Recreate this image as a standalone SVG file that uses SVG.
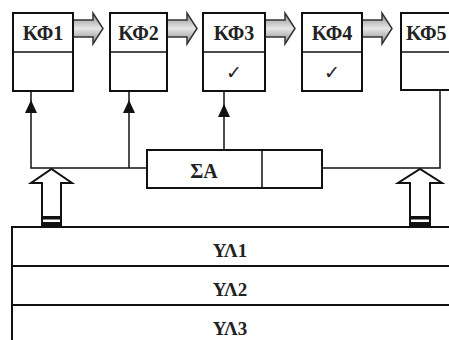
<svg xmlns="http://www.w3.org/2000/svg" width="449" height="340" viewBox="0 0 449 340">
<style>
.box{fill:#fff;stroke:#111;stroke-width:2}
.ln{fill:none;stroke:#111;stroke-width:1.5}
.t{font-family:"Liberation Serif","Times New Roman",serif;font-weight:bold;fill:#222;text-anchor:middle}
.ck{font-family:"DejaVu Sans",sans-serif;font-size:19px;font-weight:bold;fill:#222;text-anchor:middle}
.ga{fill:url(#g);stroke:#333;stroke-width:1.5}
.ha{fill:#fff;stroke:#111;stroke-width:2}
</style>
<defs>
<linearGradient id="g" x1="0" y1="0" x2="0" y2="1">
<stop offset="0" stop-color="#8a8a8a"/>
<stop offset="0.5" stop-color="#e6e6e6"/>
<stop offset="1" stop-color="#8a8a8a"/>
</linearGradient>
<path id="ga" d="M0,20 H20 V13 L30,28.5 L20,44 V37 H0 Z"/>
<path id="ah" d="M-6,113 L0,100 L6,113 Z" fill="#111"/>
</defs>
<g id="connectors">
<use href="#ga" class="ga" x="73"/>
<use href="#ga" class="ga" x="167"/>
<use href="#ga" class="ga" x="265"/>
<use href="#ga" class="ga" x="362"/>
<path class="ln" d="M31,91 V168 H147"/>
<path class="ln" d="M129,91 V168"/>
<path class="ln" d="M224,91 V150"/>
<path class="ln" d="M322,168 H440 V90"/>
<use href="#ah" x="31"/>
<use href="#ah" x="129"/>
<use href="#ah" x="224" y="4"/>
</g>
<g id="up-left">
<path class="ha" d="M42,227 V183 H31 L51.5,169 L72,183 H61 V227"/>
<rect x="42" y="216" width="19" height="3.5" fill="#111"/>
<rect x="42" y="222" width="19" height="5" fill="#111"/>
</g>
<g id="up-right">
<path class="ha" d="M410,227 V183 H398 L420,169 L442,183 H430 V227"/>
<rect x="410" y="216" width="20" height="3.5" fill="#111"/>
<rect x="410" y="222" width="20" height="5" fill="#111"/>
</g>
<g id="kf1">
<rect class="box" x="13" y="13" width="60" height="78"/>
<line class="ln" x1="13" y1="52" x2="73" y2="52" stroke-width="2"/>
<text class="t" x="43" y="40" font-size="20">ΚΦ1</text>
</g>
<g id="kf2">
<rect class="box" x="110" y="13" width="57" height="78"/>
<line class="ln" x1="110" y1="52" x2="167" y2="52" stroke-width="2"/>
<text class="t" x="138.5" y="40" font-size="20">ΚΦ2</text>
</g>
<g id="kf3">
<rect class="box" x="203" y="13" width="62" height="78"/>
<line class="ln" x1="203" y1="52" x2="265" y2="52" stroke-width="2"/>
<text class="t" x="234" y="40" font-size="20">ΚΦ3</text>
<text class="ck" x="234" y="79">✓</text>
</g>
<g id="kf4">
<rect class="box" x="302" y="13" width="60" height="78"/>
<line class="ln" x1="302" y1="52" x2="362" y2="52" stroke-width="2"/>
<text class="t" x="332" y="40" font-size="20">ΚΦ4</text>
<text class="ck" x="332" y="79">✓</text>
</g>
<g id="kf5">
<rect class="box" x="401" y="13" width="60" height="77"/>
<line class="ln" x1="401" y1="52" x2="461" y2="52" stroke-width="2"/>
<text class="t" x="406" y="40" font-size="20" style="text-anchor:start">ΚΦ5</text>
</g>
<g id="sa">
<rect class="box" x="147" y="150" width="175" height="38"/>
<line class="ln" x1="262" y1="150" x2="262" y2="188" stroke-width="2"/>
<text class="t" x="204" y="178" font-size="20">ΣΑ</text>
</g>
<g id="yl1">
<rect class="box" x="12" y="227" width="450" height="39"/>
<text class="t" x="230" y="257" font-size="19">ΥΛ1</text>
</g>
<g id="yl2">
<rect class="box" x="12" y="266" width="450" height="39"/>
<text class="t" x="230" y="296" font-size="19">ΥΛ2</text>
</g>
<g id="yl3">
<rect class="box" x="12" y="305" width="450" height="45"/>
<text class="t" x="230" y="335" font-size="19">ΥΛ3</text>
</g>
</svg>
